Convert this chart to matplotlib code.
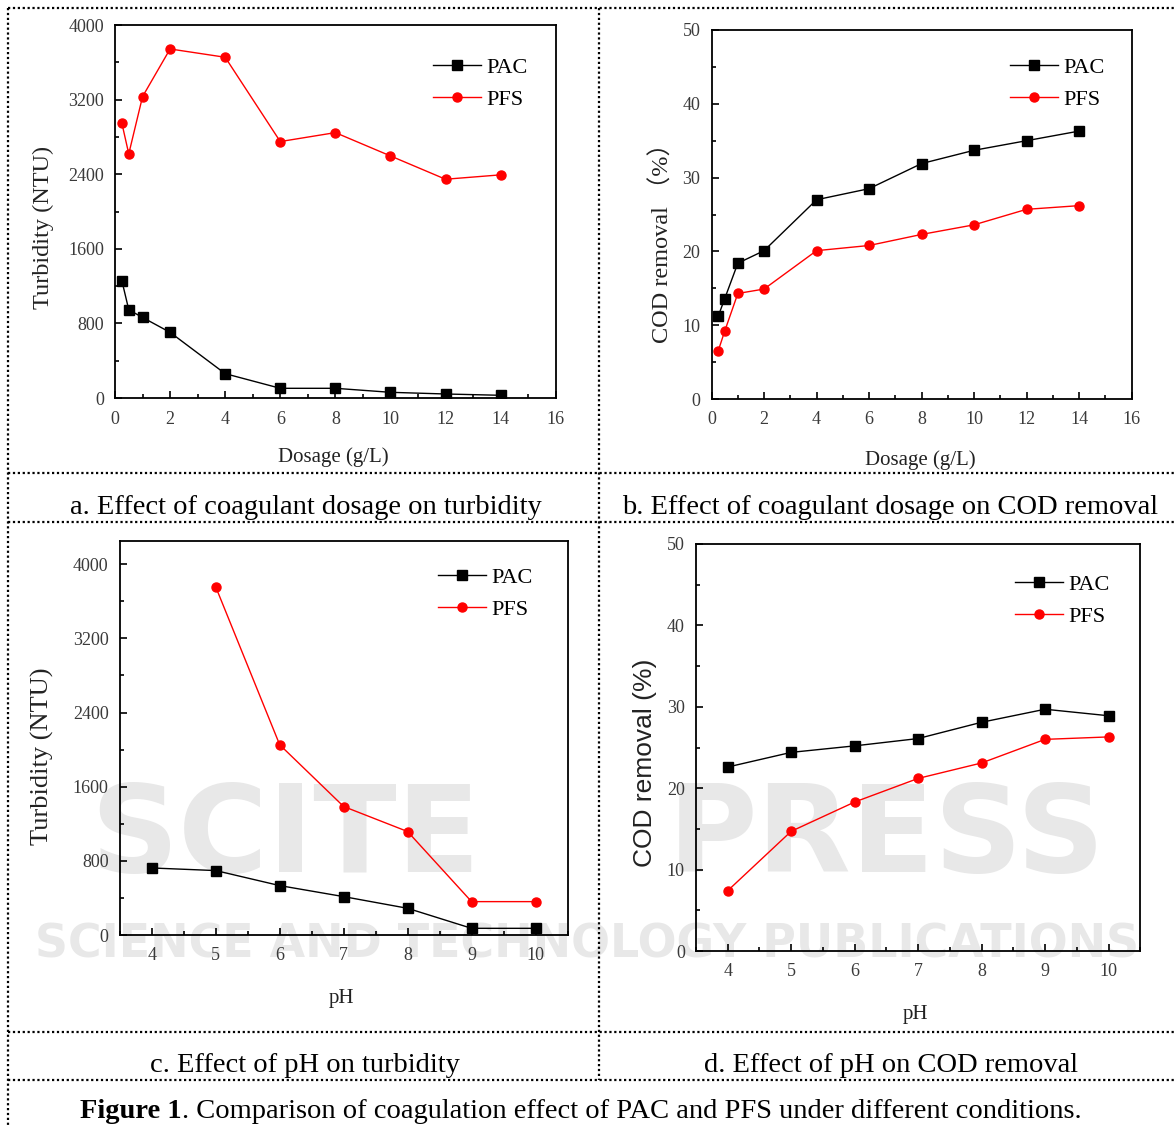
import matplotlib
matplotlib.use("Agg")
import matplotlib.pyplot as plt
from matplotlib.lines import Line2D
from matplotlib.ticker import MultipleLocator

# ---------------- data ----------------
dosage = [0.25, 0.5, 1, 2, 4, 6, 8, 10, 12, 14]
turb_pac_dose = [1257, 946, 864, 704, 261, 104, 104, 61, 43, 29]
turb_pfs_dose = [2946, 2618, 3232, 3743, 3654, 2750, 2846, 2596, 2346, 2393]
cod_pac_dose = [11.2, 13.6, 18.4, 20.1, 27.0, 28.5, 31.9, 33.7, 35.0, 36.3]
cod_pfs_dose = [6.5, 9.2, 14.3, 14.9, 20.1, 20.8, 22.3, 23.6, 25.7, 26.2]

ph_pac = [4, 5, 6, 7, 8, 9, 10]
ph_pfs_turb = [5, 6, 7, 8, 9, 10]
ph_pfs_cod = [4, 5, 6, 7, 8, 9, 10]
turb_pac_ph = [723, 695, 533, 414, 288, 72, 72]
turb_pfs_ph = [3755, 2052, 1386, 1116, 360, 360]
cod_pac_ph = [22.6, 24.4, 25.2, 26.1, 28.1, 29.7, 28.9]
cod_pfs_ph = [7.4, 14.7, 18.3, 21.2, 23.1, 26.0, 26.3]

series_names = ["PAC", "PFS"]
captions = ["a. Effect of coagulant dosage on turbidity",
            "b. Effect of coagulant dosage on COD removal",
            "c. Effect of pH on turbidity",
            "d. Effect of pH on COD removal"]
fig_caption_bold = "Figure 1"
fig_caption_rest = ". Comparison of coagulation effect of PAC and PFS under different conditions."
watermark_words = ["SCITE", "PRESS"]
watermark_sub = "SCIENCE AND TECHNOLOGY PUBLICATIONS"

# ---------------- figure ----------------
W, H = 1174, 1127
fig = plt.figure(figsize=(W / 100, H / 100), dpi=100)
fig.patch.set_facecolor("white")

SERIF = ["Liberation Serif", "DejaVu Serif"]
TICKC = "#3a3a3a"
WMC = "#e8e8e8"

# ---------------- watermark (behind the charts) ----------------
fig.text(285 / W, 1 - 872 / H, watermark_words[0], ha="center", va="baseline", fontsize=88,
         family="DejaVu Sans", weight="bold", color=WMC, zorder=-5)
fig.text(887 / W, 1 - 872 / H, watermark_words[1], ha="center", va="baseline", fontsize=88,
         family="DejaVu Sans", weight="bold", color=WMC, zorder=-5)
fig.text(0.5, 1 - 958 / H, watermark_sub, ha="center", va="baseline",
         fontsize=33, family="DejaVu Sans", weight="bold", color=WMC, zorder=-5)


def px_axes(l, r, t, b):
    return fig.add_axes([l / W, 1 - b / H, (r - l) / W, (b - t) / H])


def style(ax, xlim, ylim, xmaj, xmin, ymaj, ymin):
    ax.set_xlim(*xlim)
    ax.set_ylim(*ylim)
    ax.xaxis.set_major_locator(MultipleLocator(xmaj))
    ax.xaxis.set_minor_locator(MultipleLocator(xmin))
    ax.yaxis.set_major_locator(MultipleLocator(ymaj))
    ax.yaxis.set_minor_locator(MultipleLocator(ymin))
    ax.tick_params(which="both", direction="in", top=False, right=False,
                   width=1.2, colors="black", labelcolor=TICKC)
    ax.tick_params(which="major", length=5, labelsize=13)
    ax.tick_params(which="minor", length=3)
    ax.tick_params(axis="y", pad=8)
    ax.tick_params(axis="x", pad=9)
    for lab in ax.get_xticklabels() + ax.get_yticklabels():
        lab.set_fontfamily(SERIF)
    for s in ax.spines.values():
        s.set_linewidth(1.3)
    ax.set_facecolor("none")


def plot_pair(ax, x1, y1, x2, y2):
    ax.plot(x1, y1, color="black", lw=1.0, marker="s", ms=6.5, label=series_names[0], zorder=3)
    ax.plot(x2, y2, color="red", lw=1.0, marker="o", ms=6.5, label=series_names[1], zorder=3)


def legend(ax, x, y):
    ax.legend(loc="upper left", bbox_to_anchor=(x, y), frameon=False, borderpad=0,
              borderaxespad=0, handlelength=2.15, handletextpad=0.25, labelspacing=0.5,
              prop={"family": SERIF, "size": 16})


def labels(ax, xl, yl, xpos, ypos, yfamily=SERIF, ysize=17.5):
    ax.set_xlabel(xl, fontsize=15, family=SERIF, color="#222222")
    ax.set_ylabel(yl, fontsize=ysize, family=yfamily, color="#222222")
    ax.xaxis.set_label_coords(*xpos)
    ax.yaxis.set_label_coords(*ypos)
    ax.xaxis.label.set_va("center")
    ax.yaxis.label.set_va("center")


# panel a
axa = px_axes(115, 555.7, 25, 398)
plot_pair(axa, dosage, turb_pac_dose, dosage, turb_pfs_dose)
style(axa, (0, 16), (0, 4000), 2, 1, 800, 400)
legend(axa, 0.722, 0.913)
labels(axa, "Dosage (g/L)", "Turbidity (NTU)", (0.495, -0.158), (-0.163, 0.456))

# panel b
axb = px_axes(711.6, 1131.5, 30, 399)
plot_pair(axb, dosage, cod_pac_dose, dosage, cod_pfs_dose)
style(axb, (0, 16), (0, 50), 2, 1, 10, 5)
legend(axb, 0.711, 0.925)
labels(axb, "Dosage (g/L)", "COD removal （%）", (0.496, -0.165), (-0.118, 0.439),
       yfamily=["Liberation Serif", "Noto Sans CJK SC"], ysize=17.5)

# panel c
axc = px_axes(119.8, 567.5, 541, 935)
plot_pair(axc, ph_pac, turb_pac_ph, ph_pfs_turb, turb_pfs_ph)
style(axc, (3.5, 10.5), (0, 4250), 1, 0.5, 800, 400)
legend(axc, 0.711, 0.933)
labels(axc, "pH", "Turbidity (NTU)", (0.496, -0.160), (-0.172, 0.454), ysize=19)

# panel d
axd = px_axes(695.9, 1140.3, 544, 951)
plot_pair(axd, ph_pac, cod_pac_ph, ph_pfs_cod, cod_pfs_ph)
style(axd, (3.5, 10.5), (0, 50), 1, 0.5, 10, 5)
legend(axd, 0.718, 0.925)
labels(axd, "pH", "COD removal (%)", (0.493, -0.157), (-0.115, 0.462),
       yfamily=["Liberation Sans"], ysize=19)

# ---------------- table grid (dotted) ----------------
def hline(y, x0=8, x1=1174):
    fig.add_artist(Line2D([x0 / W, x1 / W], [1 - y / H, 1 - y / H], color="black",
                          lw=1.6, linestyle=(0, (1, 1.2)), transform=fig.transFigure))


def vline(x, y0, y1):
    fig.add_artist(Line2D([x / W, x / W], [1 - y0 / H, 1 - y1 / H], color="black",
                          lw=1.6, linestyle=(0, (1, 1.2)), transform=fig.transFigure))


for yy in (8, 473, 522, 1032, 1080):
    hline(yy)
vline(8, 8, 1127)
vline(599, 8, 1080)

# ---------------- captions ----------------
cap_fs = 20.5
fig.text(306 / W, 1 - 508 / H, captions[0], ha="center", va="center", fontsize=cap_fs, family=SERIF)
fig.text(890 / W, 1 - 508 / H, captions[1], ha="center", va="center", fontsize=cap_fs, family=SERIF)
fig.text(305 / W, 1 - 1066 / H, captions[2], ha="center", va="center", fontsize=cap_fs, family=SERIF)
fig.text(891 / W, 1 - 1066 / H, captions[3], ha="center", va="center", fontsize=cap_fs, family=SERIF)

tb = fig.text(80 / W, 1 - 1112 / H, fig_caption_bold, ha="left", va="center",
              fontsize=cap_fs, family=SERIF, weight="bold")
fig.canvas.draw()
bb = tb.get_window_extent()
fig.text(bb.x1 / W, 1 - 1112 / H, fig_caption_rest, ha="left", va="center",
         fontsize=cap_fs, family=SERIF)

fig.savefig("out.png", dpi=100, facecolor="white")
